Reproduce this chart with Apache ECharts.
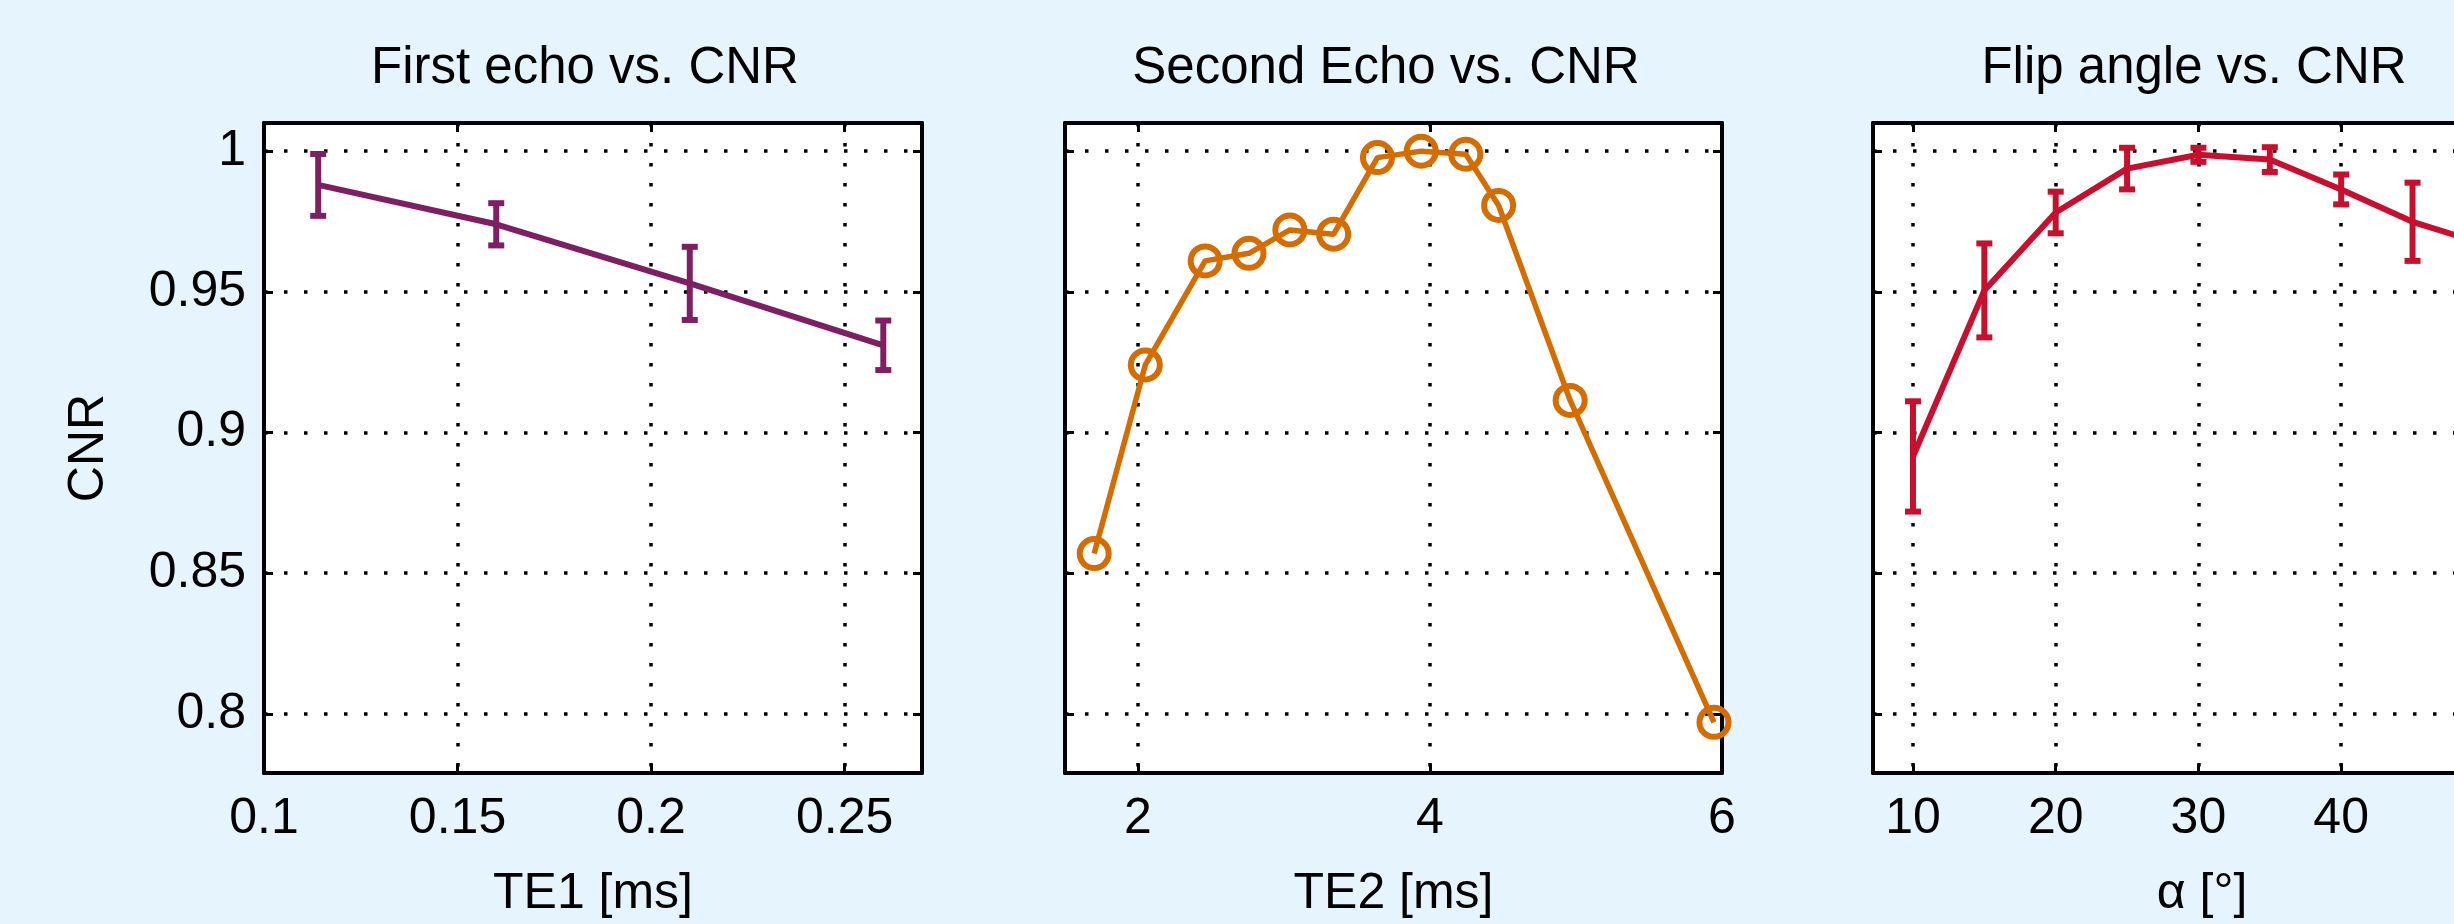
<!DOCTYPE html>
<html>
<head>
<meta charset="utf-8">
<script src="https://cdn.jsdelivr.net/npm/echarts@6/dist/echarts.min.js"></script>
<style>
html,body{margin:0;padding:0;background:#E6F4FE;overflow:hidden;}
#c{width:2600px;height:924px;}
</style>
</head>
<body>
<div id="c"></div>
<script>
// ---- data ----
const te1 = [0.114, 0.16, 0.21, 0.26];
const cnrTE1 = [0.988, 0.974, 0.953, 0.931];
const errTE1 = [0.011, 0.0075, 0.013, 0.0088];

const te2 = [1.7, 2.05, 2.46, 2.76, 3.04, 3.34, 3.64, 3.94, 4.245, 4.47, 4.96, 5.945];
const cnrTE2 = [0.857, 0.924, 0.961, 0.9637, 0.972, 0.9705, 0.9977, 1.0, 0.9989, 0.9807, 0.9114, 0.797];

const alpha = [10, 15, 20, 25, 30, 35, 40, 45, 50];
const cnrAlpha = [0.8915, 0.9505, 0.9782, 0.9938, 0.9987, 0.997, 0.9864, 0.9749, 0.967];
const errAlpha = [0.0196, 0.0167, 0.0074, 0.0074, 0.0025, 0.0044, 0.0053, 0.0139, 0.01];

const cnrTicks = [0.8, 0.85, 0.9, 0.95, 1];
const te1Ticks = [0.1, 0.15, 0.2, 0.25];
const te2Ticks = [2, 4, 6];
const alphaTicks = [10, 20, 30, 40, 50];

const titles = ['First echo vs. CNR', 'Second Echo vs. CNR', 'Flip angle vs. CNR'];
const xNames = ['TE1 [ms]', 'TE2 [ms]', 'α [°]'];
const yName = 'CNR';

// ---- styling ----
const FONT = '"Liberation Sans", Arial, Helvetica, sans-serif';
const FS = 50;
const C1 = '#7E1F63', C2 = '#D46C00', C3 = '#C80F2E';
const yMin = 0.779, yMax = 1.01;

const grids = [
  {left: 264, top: 123, width: 658, height: 657},
  {left: 1065, top: 123, width: 657, height: 657},
  {left: 1873, top: 123, width: 658, height: 653}
];
const xRanges = [[0.1, 0.27], [1.5, 6], [7.2, 53.3]];
const xTicks = [te1Ticks, te2Ticks, alphaTicks];

const xAxes = [], yAxes = [];
const dotted = {show: true, lineStyle: {color: '#000', width: 3.5, type: [3.5, 16.5]}};
const axLine = {show: true, onZero: false, lineStyle: {color: '#000', width: 4}};
const tickIn = vals => ({show: true, inside: true, length: 9, customValues: vals, lineStyle: {color: '#000', width: 3}});

for (let i = 0; i < 3; i++) {
  xAxes.push({
    type: 'value', gridIndex: i, position: 'bottom',
    min: xRanges[i][0], max: xRanges[i][1],
    axisLine: axLine, axisTick: tickIn(xTicks[i]),
    axisLabel: {show: true, customValues: xTicks[i], margin: 21, color: '#000', fontSize: FS, fontFamily: FONT, showMinLabel: true, showMaxLabel: true},
    splitLine: dotted,
    name: xNames[i], nameLocation: 'middle', nameGap: 96,
    nameTextStyle: {color: '#000', fontSize: FS, fontFamily: FONT}
  });
  xAxes.push({
    type: 'value', gridIndex: i, position: 'top',
    min: xRanges[i][0], max: xRanges[i][1],
    axisLine: axLine, axisTick: tickIn(xTicks[i]),
    axisLabel: {show: false}, splitLine: {show: false}
  });
  yAxes.push({
    type: 'value', gridIndex: i, position: 'left',
    min: yMin, max: yMax,
    axisLine: axLine, axisTick: tickIn(cnrTicks),
    axisLabel: {show: i === 0, customValues: cnrTicks, margin: 18, color: '#000', fontSize: FS, fontFamily: FONT},
    splitLine: dotted,
    name: i === 0 ? yName : '', nameLocation: 'middle', nameGap: 150,
    nameTextStyle: {color: '#000', fontSize: FS, fontFamily: FONT}
  });
  yAxes.push({
    type: 'value', gridIndex: i, position: 'right',
    min: yMin, max: yMax,
    axisLine: axLine, axisTick: tickIn(cnrTicks),
    axisLabel: {show: false}, splitLine: {show: false}
  });
}

function errSeries(xs, ys, es, color, axisIdx) {
  return {
    type: 'custom', xAxisIndex: axisIdx, yAxisIndex: axisIdx, z: 3,
    data: xs.map((x, k) => [x, ys[k], es[k]]),
    renderItem: function (params, api) {
      const x = api.value(0), y = api.value(1), e = api.value(2);
      const t = api.coord([x, y + e]);
      const b = api.coord([x, y - e]);
      const hw = 8;
      const st = {stroke: color, lineWidth: 6};
      return {type: 'group', children: [
        {type: 'line', shape: {x1: t[0], y1: t[1], x2: b[0], y2: b[1]}, style: st},
        {type: 'line', shape: {x1: t[0] - hw, y1: t[1], x2: t[0] + hw, y2: t[1]}, style: st},
        {type: 'line', shape: {x1: b[0] - hw, y1: b[1], x2: b[0] + hw, y2: b[1]}, style: st}
      ]};
    }
  };
}

const series = [
  {type: 'line', xAxisIndex: 0, yAxisIndex: 0, data: te1.map((x, k) => [x, cnrTE1[k]]),
   symbol: 'none', lineStyle: {color: C1, width: 6}, itemStyle: {color: C1}, z: 2},
  errSeries(te1, cnrTE1, errTE1, C1, 0),
  {type: 'line', xAxisIndex: 2, yAxisIndex: 2, data: te2.map((x, k) => [x, cnrTE2[k]]),
   symbol: 'circle', symbolSize: 29, showAllSymbol: true,
   lineStyle: {color: C2, width: 5.5},
   itemStyle: {color: 'rgba(0,0,0,0)', borderColor: C2, borderWidth: 6}, z: 2},
  {type: 'line', xAxisIndex: 4, yAxisIndex: 4, data: alpha.map((x, k) => [x, cnrAlpha[k]]),
   symbol: 'none', lineStyle: {color: C3, width: 6}, itemStyle: {color: C3}, z: 2},
  errSeries(alpha, cnrAlpha, errAlpha, C3, 4)
];

const titleCenters = [585, 1386, 2194];
const option = {
  animation: false,
  backgroundColor: '#E6F4FE',
  title: titles.map((t, i) => ({
    text: t, left: titleCenters[i], top: 43, textAlign: 'center', padding: 0,
    textStyle: {color: '#000', fontSize: 51, fontWeight: 'normal', fontFamily: FONT}
  })),
  grid: grids.map(g => Object.assign({show: true, backgroundColor: '#fff', borderWidth: 0, containLabel: false}, g)),
  xAxis: xAxes,
  yAxis: yAxes,
  series: series
};

const chart = echarts.init(document.getElementById('c'), null, {renderer: 'canvas'});
chart.setOption(option);
</script>
</body>
</html>
